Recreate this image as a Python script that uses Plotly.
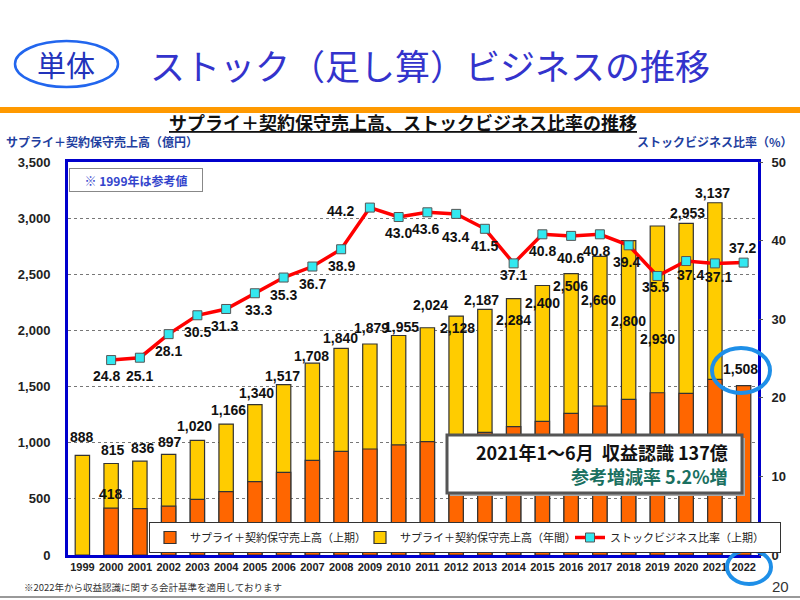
import plotly.graph_objects as go

# ---------------- data ----------------
years = list(range(1999, 2023))
annual = [888, 815, 836, 897, 1020, 1166, 1340, 1517, 1708, 1840, 1879, 1955,
          2024, 2128, 2187, 2284, 2400, 2506, 2660, 2800, 2930, 2953, 3137, None]
first_half = [None, 418, 413, 436, 496, 564, 653, 736, 843, 923, 944, 980,
              1009, 1050, 1092, 1143, 1190, 1261, 1327, 1386, 1445, 1440, 1564, 1508]
ratio = [None, 24.8, 25.1, 28.1, 30.5, 31.3, 33.3, 35.3, 36.7, 38.9, 44.2, 43.0,
         43.6, 43.4, 41.5, 37.1, 40.8, 40.6, 40.8, 39.4, 35.5, 37.4, 37.1, 37.2]
first_half_labeled = [2000, 2022]

series_names = ["サプライ＋契約保守売上高（上期）", "サプライ＋契約保守売上高（年間）", "ストックビジネス比率（上期）"]

# ---------------- label offsets (px: dx, dy up) ----------------
annual_off = [(0, 18), (2, 13), (3, 13), (1, 12), (-3, 14), (2, 14), (2, 12), (-1, 9), (-1, 7),
              (-1, 10), (2, 16), (3, 8), (3, 23), (1, -12), (-3, 9), (0, -21), (0, -17), (-1, -12),
              (-1, -44), (0, -80), (0, -113), (1, 10), (-2, 10), (0, 0)]
half_off = {2000: (0, 14), 2022: (-3, 17)}
ratio_off = [(0, 0), (-5, -16), (0, -18), (0, -17), (0, -17), (-2, -17), (4, -17), (0, -17), (0, -17),
             (0, -17), (-29, -3), (0, -16), (-2, -17), (-1, -23), (0, -17), (0, -12), (0, -17),
             (-1, -22), (-3, -17), (-2, -17), (-2, -11), (4, -14), (4, -14), (-1, 15)]

# ---------------- geometry helpers ----------------
L, R, T, B = 68, 758, 162, 555
def px(x):
    return (x - L) / (R - L)
def py(y):
    return (B - y) / (B - T)

JP = "Noto Sans CJK JP"
AR = "Liberation Sans"

fig = go.Figure()
fig.add_trace(go.Bar(x=years, y=annual, name=series_names[1], width=0.5,
                     marker=dict(color="#FFCC00", line=dict(color="#333333", width=1.2)),
                     legendrank=2))
fig.add_trace(go.Bar(x=years, y=first_half, name=series_names[0], width=0.5,
                     marker=dict(color="#FF6600", line=dict(color="#333333", width=1.2)),
                     legendrank=1))
fig.add_trace(go.Scatter(x=years, y=ratio, name=series_names[2], yaxis="y2", mode="lines+markers",
                         line=dict(color="#FF0000", width=3.5),
                         marker=dict(symbol="square", size=9, color="#33E8F0",
                                     line=dict(color="#555555", width=1)),
                         legendrank=3))

annotations = []
lab_font = dict(family=AR, size=14, color="#111111", weight="bold")
for i, yr in enumerate(years):
    if annual[i] is not None:
        dx, dy = annual_off[i]
        annotations.append(dict(x=yr, y=annual[i], xref="x", yref="y", text=f"{annual[i]:,}",
                                showarrow=False, xshift=dx, yshift=dy, font=lab_font,
                                xanchor="center", yanchor="middle"))
    if yr in first_half_labeled and first_half[i] is not None:
        dx, dy = half_off[yr]
        annotations.append(dict(x=yr, y=first_half[i], xref="x", yref="y", text=f"{first_half[i]:,}",
                                showarrow=False, xshift=dx, yshift=dy, font=lab_font,
                                xanchor="center", yanchor="middle"))
    if ratio[i] is not None:
        dx, dy = ratio_off[i]
        annotations.append(dict(x=yr, y=ratio[i], xref="x", yref="y2", text=f"{ratio[i]:.1f}",
                                showarrow=False, xshift=dx, yshift=dy, font=lab_font,
                                xanchor="center", yanchor="middle"))

def ptext(x, y, text, font, xanchor="center", **kw):
    return dict(x=px(x), y=py(y), xref="paper", yref="paper", text=text, showarrow=False,
                xanchor=xanchor, yanchor="middle", font=font, **kw)

annotations += [
    ptext(66, 64, "単体", dict(family=JP, size=29, color="#2233BB")),
    ptext(148, 64, "ストック（足し算）ビジネスの推移", dict(family=JP, size=35, color="#3333CC"),
          xanchor="left"),
    ptext(403, 122, "<u>サプライ＋契約保守売上高、ストックビジネス比率の推移</u>",
          dict(family=JP, size=18, color="#111111", weight="bold")),
    ptext(4, 141, "サプライ＋契約保守売上高（億円）",
          dict(family=JP, size=12, color="#1F3FA0", weight="bold"), xanchor="left"),
    ptext(795, 141, "ストックビジネス比率（%）",
          dict(family=JP, size=12, color="#1F3FA0", weight="bold"), xanchor="right"),
    ptext(136, 180.5, "※ 1999年は参考値",
          dict(family=JP, size=12, color="#3344CC", weight="bold"),
          width=130, height=20, bordercolor="#888888", borderwidth=1, bgcolor="white"),
    ptext(730, 452, "2021年1～6月  収益認識 137億",
          dict(family=JP, size=18, color="#111111", weight="bold"), xanchor="right"),
    ptext(730, 476, "参考増減率 5.2%増",
          dict(family=JP, size=18, color="#1A7060", weight="bold"), xanchor="right"),
    ptext(22, 587, "※2022年から収益認識に関する会計基準を適用しております",
          dict(family=JP, size=9.5, color="#333333"), xanchor="left"),
    ptext(780, 586, "20", dict(family=AR, size=15, color="#333333")),
]

shapes = [
    dict(type="rect", xref="paper", yref="paper", x0=px(0), x1=px(800), y0=py(113), y1=py(107),
         fillcolor="#FF9900", line=dict(width=0)),
    dict(type="circle", xref="paper", yref="paper", x0=px(15), x1=px(118), y0=py(87), y1=py(41),
         line=dict(color="#2266EE", width=2.5)),
    dict(type="rect", xref="paper", yref="paper", x0=px(450), x1=px(745), y0=py(496), y1=py(438),
         fillcolor="#AAAAAA", line=dict(width=0)),
    dict(type="rect", xref="paper", yref="paper", x0=px(447), x1=px(742), y0=py(493), y1=py(435),
         fillcolor="white", line=dict(color="#555555", width=3)),
    dict(type="circle", xref="paper", yref="paper", x0=px(712), x1=px(770), y0=py(393), y1=py(348),
         line=dict(color="#1E8FE8", width=4)),
    dict(type="circle", xref="paper", yref="paper", x0=px(727), x1=px(771), y0=py(584), y1=py(550),
         line=dict(color="#1E8FE8", width=4)),
    dict(type="line", xref="paper", yref="paper", x0=px(0), x1=px(800), y0=py(597), y1=py(597),
         line=dict(color="#777777", width=1.5)),
]

fig.update_layout(
    width=800, height=600,
    margin=dict(l=L, r=800 - R, t=T, b=600 - B, autoexpand=False),
    paper_bgcolor="white", plot_bgcolor="white",
    barmode="overlay",
    showlegend=True,
    legend=dict(orientation="h", x=px(149), y=py(522), xanchor="left", yanchor="top",
                bgcolor="white", bordercolor="#333333", borderwidth=1,
                entrywidth=165, entrywidthmode="pixels", tracegroupgap=0,
                font=dict(family=JP, size=11, color="#222222")),
    xaxis=dict(range=[1998.5, 2022.5], tickmode="array", tickvals=years,
               ticktext=[str(y) for y in years], showline=True, linecolor="#0000CC",
               linewidth=3, mirror=True, showgrid=False, ticks="", zeroline=False,
               tickfont=dict(family=AR, size=11, color="#222222", weight="bold")),
    yaxis=dict(range=[0, 3500], dtick=500, tickformat=",", showline=True, linecolor="#0000CC",
               linewidth=3, mirror=True, showgrid=True, gridcolor="#777777", griddash="dot",
               gridwidth=1, zeroline=False, ticks="", ticklabelstandoff=12,
               tickfont=dict(family=AR, size=13, color="#222222", weight="bold")),
    yaxis2=dict(range=[0, 50], dtick=10, overlaying="y", side="right", showgrid=False,
                zeroline=False, ticks="outside", ticklen=4, tickcolor="#555555",
                ticklabelstandoff=6,
                tickfont=dict(family=AR, size=13, color="#222222", weight="bold")),
    annotations=annotations,
    shapes=shapes,
)

fig.write_html("out.html", config={"displayModeBar": False},
               post_script="document.body.style.margin='0';")
